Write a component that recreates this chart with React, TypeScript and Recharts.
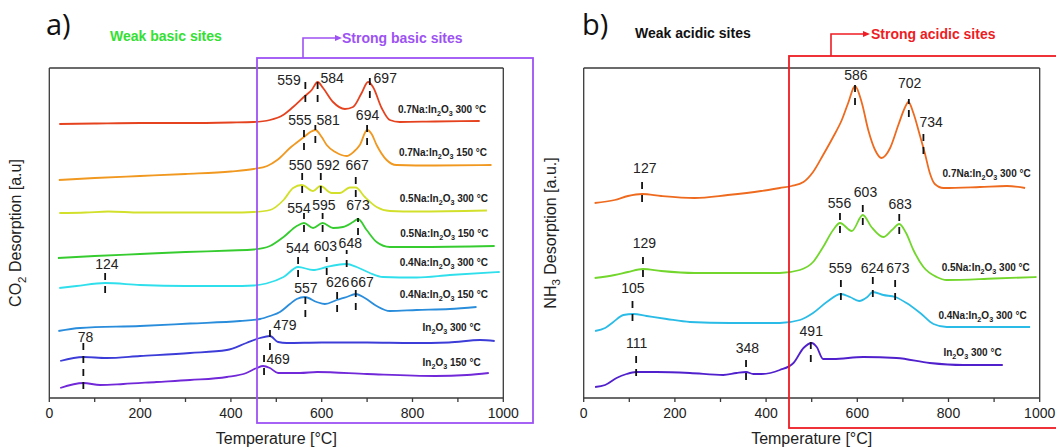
import React from 'react';
import { LineChart, Line, XAxis, YAxis, ReferenceLine, ReferenceDot } from 'recharts';

const FONT = '"Liberation Sans", Arial, Helvetica, sans-serif';
const INK = '#222222';
const FRAME = '#3a3a3a';

// ---------- axis ticks ----------
const temperatureTicks = [0, 100, 200, 300, 400, 500, 600, 700, 800, 900, 1000];
const temperatureTickLabels = ['0', '', '200', '', '400', '', '600', '', '800', '', '1000'];

// ---------- panel a : CO2-TPD (stacked, offset a.u.) ----------
const a1T = [22, 100, 200, 300, 400, 450, 486, 515, 537, 563, 578, 591, 603, 625, 651, 669, 688, 702, 713, 732, 750, 772, 850, 948];
const a1V = [274, 274.5, 275, 275, 275.5, 276, 278, 283, 291, 302, 308, 316, 310, 296, 289, 291, 305, 316, 311, 290, 278, 276, 276.5, 277];
const a2T = [21, 100, 200, 300, 400, 450, 480, 502, 530, 561, 575, 586, 600, 611, 630, 655, 670, 684, 700, 710, 721, 743, 765, 850, 974];
const a2V = [218, 220, 222, 224, 226.5, 229, 232, 238, 250, 261, 266, 268, 261, 253, 246, 242, 246, 253, 268, 264, 253, 238, 233, 232.5, 233];
const a3T = [22, 80, 130, 200, 300, 400, 450, 486, 516, 537, 556, 581, 597, 622, 640, 662, 675, 695, 721, 750, 809, 964];
const a3V = [185, 185.5, 186.5, 185.5, 185.5, 185.5, 186, 188, 198, 210, 213, 207, 212, 205, 205, 210.5, 210.5, 201, 191, 187, 186.5, 187.5];
const a4T = [19, 100, 200, 300, 400, 450, 486, 516, 545, 561, 581, 602, 625, 647, 669, 680, 699, 721, 750, 809, 981];
const a4V = [140, 142, 144, 146, 147.5, 148.5, 152, 161, 172, 175, 170, 175, 170, 171, 176, 179, 168, 156, 151, 151, 152];
const a5T = [22, 60, 123, 200, 300, 400, 450, 478, 516, 548, 581, 611, 633, 655, 677, 706, 735, 809, 882, 992];
const a5V = [110, 112, 115, 113, 112, 112, 112.5, 114.5, 121, 131, 128, 131, 133, 134, 131, 125, 121, 120.5, 123, 126];
const a6T = [20, 68, 200, 310, 420, 464, 486, 508, 530, 545, 563, 589, 607, 633, 655, 675, 695, 721, 750, 809, 882, 941];
const a6V = [67, 70, 72, 74.5, 77, 79, 82, 86, 94, 99, 101, 96, 94, 98, 101, 104, 100, 92, 87, 88, 89, 91];
const a7T = [24, 75, 126, 200, 310, 391, 434, 464, 486, 504, 523, 600, 700, 800, 880, 949, 981];
const a7V = [37, 41, 40, 42, 45, 48, 55, 60, 62, 56, 55, 55.5, 55.5, 55, 55.5, 58, 57];
const a8T = [24, 75, 112, 163, 236, 310, 391, 434, 457, 471, 486, 504, 552, 590, 700, 850, 920, 968];
const a8V = [10, 15, 13, 14, 16, 18, 21, 25, 30, 32, 30, 25, 25, 26, 24, 22, 23, 25];

const seriesNamesA = ['0.7Na:In₂O₃ 300 °C', '0.7Na:In₂O₃ 150 °C', '0.5Na:In₂O₃ 300 °C', '0.5Na:In₂O₃ 150 °C', '0.4Na:In₂O₃ 300 °C', '0.4Na:In₂O₃ 150 °C', 'In₂O₃ 300 °C', 'In₂O₃ 150 °C'];
const paletteA = ['#e5431f', '#f0981f', '#d2e02c', '#36cc30', '#30dfec', '#2a8ddc', '#3c3cd8', '#7028d8'];
const curveLabelA_T = [768, 770, 772, 773, 772, 772, 822, 822];
const curveLabelA_V = [285, 242, 196, 161, 132, 100, 67, 32];

const peakMarkA_T = [564, 591, 706, 561, 586, 700, 557, 598, 675, 561, 602, 680, 548, 611, 655, 123, 564, 634, 675, 75, 486, 473];
const peakMarkA_lo = [296, 296, 300, 248, 255, 253, 205, 205, 201, 166, 166, 163, 121, 123, 131, 105, 81, 86, 88, 9, 48, 23];
const peakMarkA_hi = [316, 320, 323, 271, 273, 276, 226, 226, 223, 185, 185, 180, 143, 141, 148, 128, 105, 110, 110, 55, 71, 45];
const peakTextA = ['559', '584', '697', '555', '581', '694', '550', '592', '667', '554', '595', '673', '544', '603', '648', '124', '557', '626', '667', '78', '479', '469'];
const peakTextA_T = [528, 623, 740, 552, 614, 701, 553, 614, 678, 550, 605, 680, 547, 608, 663, 127, 565, 635, 689, 80, 519, 504];
const peakTextA_V = [318, 320, 320, 278, 278, 283, 233, 233, 233, 190, 193, 193, 150, 152, 155, 134, 110, 116, 116, 61, 73, 39];

// ---------- panel b : NH3-TPD ----------
const b1T = [24, 68, 97, 128, 170, 243, 316, 389, 430, 456, 482, 503, 525, 547, 566, 580, 595, 610, 624, 639, 653, 672, 690, 704, 712, 723, 737, 748, 759, 770, 789, 869, 928, 968];
const b1V = [195, 198, 202, 204, 202, 200, 203, 207, 210, 212, 216, 226, 243, 261, 278, 295, 312, 295, 268, 248, 240, 250, 273, 290, 296, 285, 263, 245, 225, 214, 210, 211, 212, 210];
const b2T = [24, 68, 97, 130, 170, 243, 316, 430, 474, 503, 525, 547, 562, 588, 612, 631, 657, 676, 692, 707, 723, 745, 774, 796, 900, 993];
const b2V = [120, 123, 126, 129, 127, 125, 125, 125, 128, 136, 151, 168, 175, 167, 183, 171, 161, 168, 174, 165, 148, 131, 121, 118, 119.5, 121];
const b3T = [25, 47, 65, 87, 109, 138, 182, 233, 321, 430, 474, 503, 533, 564, 584, 604, 622, 634, 657, 683, 708, 738, 767, 796, 869, 979];
const b3V = [67, 70, 76, 83, 84, 82, 79, 76, 75, 75, 78, 85, 96, 104, 101, 97, 101, 106, 103, 101, 95, 85, 74, 71, 71, 71];
const b4T = [25, 47, 72, 94, 115, 160, 233, 306, 335, 356, 372, 390, 430, 460, 482, 500, 511, 525, 547, 613, 686, 759, 832, 919];
const b4V = [11, 13, 20, 24, 26, 26, 25, 23, 25, 26, 24, 24, 28, 35, 50, 55, 51, 39, 39, 41, 40, 35, 33, 33];

const seriesNamesB = ['0.7Na:In₂O₃ 300 °C', '0.5Na:In₂O₃ 300 °C', '0.4Na:In₂O₃ 300 °C', 'In₂O₃ 300 °C'];
const paletteB = ['#ee6a1e', '#72d62c', '#2abce6', '#5020cd'];
const curveLabelB_T = [787, 785, 778, 789];
const curveLabelB_V = [221, 127, 79, 42];

const peakMarkB_T = [595, 713, 745, 128, 562, 612, 692, 130, 564, 634, 683, 107, 498, 115, 356];
const peakMarkB_lo = [293, 281, 244, 196, 165, 173, 164, 121, 98, 101, 98, 77, 36, 22, 18];
const peakMarkB_hi = [315, 299, 267, 221, 186, 195, 186, 143, 121, 123, 121, 101, 58, 45, 41];
const peakTextB = ['586', '702', '734', '127', '556', '603', '683', '129', '559', '624', '673', '105', '491', '111', '348'];
const peakTextB_T = [597, 715, 762, 134, 561, 618, 694, 133, 563, 633, 689, 108, 499, 116, 359];
const peakTextB_V = [323, 315, 276, 230, 195, 206, 194, 155, 130, 130, 130, 110, 67, 55, 50];

// ---------- helpers ----------
const zip = (t: number[], v: number[]) => t.map((x, i) => ({ t: x, v: v[i] }));

const SUBS: Record<string, string> = { '₂': '2', '₃': '3' };
function richText(text: string, size: number) {
  const out: React.ReactNode[] = [];
  let buf = '';
  let low = false;
  let k = 0;
  const shift = size * 0.3;
  const flush = () => {
    if (buf) {
      out.push(<tspan key={k++} dy={low ? -shift : 0}>{buf}</tspan>);
      buf = '';
      low = false;
    }
  };
  for (const ch of Array.from(text)) {
    if (SUBS[ch]) {
      flush();
      out.push(<tspan key={k++} dy={low ? 0 : shift} fontSize={size * 0.72}>{SUBS[ch]}</tspan>);
      low = true;
    } else buf += ch;
  }
  flush();
  return out;
}

type PanelProps = {
  left: number;
  axisLeft: number;
  axisRight: number;
  series: { name: string; color: string; data: { t: number; v: number }[] }[];
  curveLabels: { text: string; t: number; v: number }[];
  marks: { t: number; lo: number; hi: number }[];
  peakTexts: { text: string; t: number; v: number }[];
  yTitle: string;
};

function Panel(p: PanelProps) {
  const yLabel = (props: any) => {
    const vb = props && props.viewBox ? props.viewBox : {};
    const x = (vb.x ?? 0) + (vb.width ?? p.axisLeft) - 28;
    const y = (vb.y ?? 68) + (vb.height ?? 330) / 2;
    return (
      <text x={x} y={y} dy="0.36em" transform={`rotate(-90, ${x}, ${y})`} textAnchor="middle" fontSize={16} fill={INK} fontFamily={FONT}>
        {richText(p.yTitle, 16)}
      </text>
    );
  };
  return (
    <div style={{ position: 'absolute', left: p.left, top: 0, width: 528, height: 448 }}>
      <LineChart width={528} height={448} margin={{ top: 0, right: 0, bottom: 0, left: 0 }}>
        <XAxis
          type="number"
          dataKey="t"
          domain={[0, 1000]}
          ticks={temperatureTicks}
          tickFormatter={(v: number) => temperatureTickLabels[temperatureTicks.indexOf(v)] ?? ''}
          allowDataOverflow
          height={50}
          tickSize={4}
          tickMargin={6}
          stroke={FRAME}
          strokeWidth={1.3}
          tick={{ fontSize: 14, fill: INK, fontFamily: FONT }}
          interval={0}
          label={{ value: 'Temperature [°C]', position: 'insideBottom', offset: 4.5, fontSize: 16, fill: INK, fontFamily: FONT }}
        />
        <XAxis xAxisId="top" orientation="top" type="number" domain={[0, 1000]} tick={false} tickLine={false} height={68} stroke={FRAME} strokeWidth={1.3} />
        <YAxis type="number" domain={[0, 330]} allowDataOverflow tick={false} tickLine={false} width={p.axisLeft} stroke={FRAME} strokeWidth={1.3} label={yLabel} />
        <YAxis yAxisId="right" orientation="right" type="number" domain={[0, 330]} tick={false} tickLine={false} width={p.axisRight} stroke={FRAME} strokeWidth={1.3} />
        {p.series.map((s) => (
          <Line key={s.name} data={s.data} dataKey="v" type="monotone" stroke={s.color} strokeWidth={1.8} dot={false} isAnimationActive={false} name={s.name} />
        ))}
        {p.marks.map((m, i) => (
          <ReferenceLine key={'m' + i} segment={[{ x: m.t, y: m.lo }, { x: m.t, y: m.hi }]} stroke="#111" strokeWidth={1.8} strokeDasharray="7 6" />
        ))}
        {p.peakTexts.map((l, i) => (
          <ReferenceDot
            key={'p' + i}
            x={l.t}
            y={l.v}
            r={0}
            shape={(q: any) => (
              <text x={q.cx} y={q.cy} dy="0.35em" textAnchor="middle" fontSize={14} fill={INK} fontFamily={FONT}>
                {l.text}
              </text>
            )}
          />
        ))}
        {p.curveLabels.map((l, i) => (
          <ReferenceDot
            key={'c' + i}
            x={l.t}
            y={l.v}
            r={0}
            shape={(q: any) => (
              <text x={q.cx} y={q.cy} dy="0.35em" textAnchor="start" fontSize={10} fontWeight="bold" fill={INK} fontFamily={FONT}>
                {richText(l.text, 10)}
              </text>
            )}
          />
        ))}
      </LineChart>
    </div>
  );
}

const seriesA = [
  zip(a1T, a1V), zip(a2T, a2V), zip(a3T, a3V), zip(a4T, a4V),
  zip(a5T, a5V), zip(a6T, a6V), zip(a7T, a7V), zip(a8T, a8V),
].map((d, i) => ({ name: seriesNamesA[i], color: paletteA[i], data: d }));
const seriesB = [zip(b1T, b1V), zip(b2T, b2V), zip(b3T, b3V), zip(b4T, b4V)].map((d, i) => ({ name: seriesNamesB[i], color: paletteB[i], data: d }));

const curveLabelsA = seriesNamesA.map((n, i) => ({ text: n, t: curveLabelA_T[i], v: curveLabelA_V[i] }));
const curveLabelsB = seriesNamesB.map((n, i) => ({ text: n, t: curveLabelB_T[i], v: curveLabelB_V[i] }));
const marksA = peakMarkA_T.map((t, i) => ({ t, lo: peakMarkA_lo[i], hi: peakMarkA_hi[i] }));
const marksB = peakMarkB_T.map((t, i) => ({ t, lo: peakMarkB_lo[i], hi: peakMarkB_hi[i] }));
const peakTextsA = peakTextA.map((text, i) => ({ text, t: peakTextA_T[i], v: peakTextA_V[i] }));
const peakTextsB = peakTextB.map((text, i) => ({ text, t: peakTextB_T[i], v: peakTextB_V[i] }));

const PURPLE = '#9d52f3';
const RED = '#ee1c24';

export default function App() {
  return (
    <div style={{ position: 'absolute', left: 0, top: 0, width: 1056, height: 448, background: '#fff', overflow: 'hidden', fontFamily: FONT }}>
      <Panel left={0} axisLeft={49.3} axisRight={24.7} series={seriesA} curveLabels={curveLabelsA} marks={marksA} peakTexts={peakTextsA} yTitle="CO₂ Desorption [a.u]" />
      <Panel left={528} axisLeft={55.7} axisRight={16.3} series={seriesB} curveLabels={curveLabelsB} marks={marksB} peakTexts={peakTextsB} yTitle="NH₃ Desorption [a.u.]" />
      <svg width={1056} height={448} style={{ position: 'absolute', left: 0, top: 0, pointerEvents: 'none' }}>
        <text x={46} y={35} fontSize={29} fontFamily='"Open Sans", sans-serif' fill="#111">a)</text>
        <text x={582} y={35} fontSize={29} fontFamily='"Open Sans", sans-serif' fill="#111">b)</text>
        <text x={110} y={36} dy="0.35em" fontSize={14} fontWeight="bold" fill="#33e033" fontFamily={FONT}>Weak basic sites</text>
        <text x={635} y={33} dy="0.35em" fontSize={14} fontWeight="bold" fill="#111" fontFamily={FONT}>Weak acidic sites</text>
        <rect x={257} y={58} width={276} height={365} fill="none" stroke={PURPLE} strokeWidth={1.8} />
        <path d="M303 58 V38 H336" fill="none" stroke={PURPLE} strokeWidth={1.6} />
        <polygon points="335,35 342,38 335,41" fill={PURPLE} />
        <text x={342} y={38} dy="0.35em" fontSize={14} fontWeight="bold" fill={PURPLE} fontFamily={FONT}>Strong basic sites</text>
        <rect x={789} y={56} width={290} height={372} fill="none" stroke={RED} strokeWidth={1.8} />
        <path d="M831 56 V34 H864" fill="none" stroke={RED} strokeWidth={1.6} />
        <polygon points="863,31 870,34 863,37" fill={RED} />
        <text x={871} y={34} dy="0.35em" fontSize={14} fontWeight="bold" fill={RED} fontFamily={FONT}>Strong acidic sites</text>
      </svg>
    </div>
  );
}
